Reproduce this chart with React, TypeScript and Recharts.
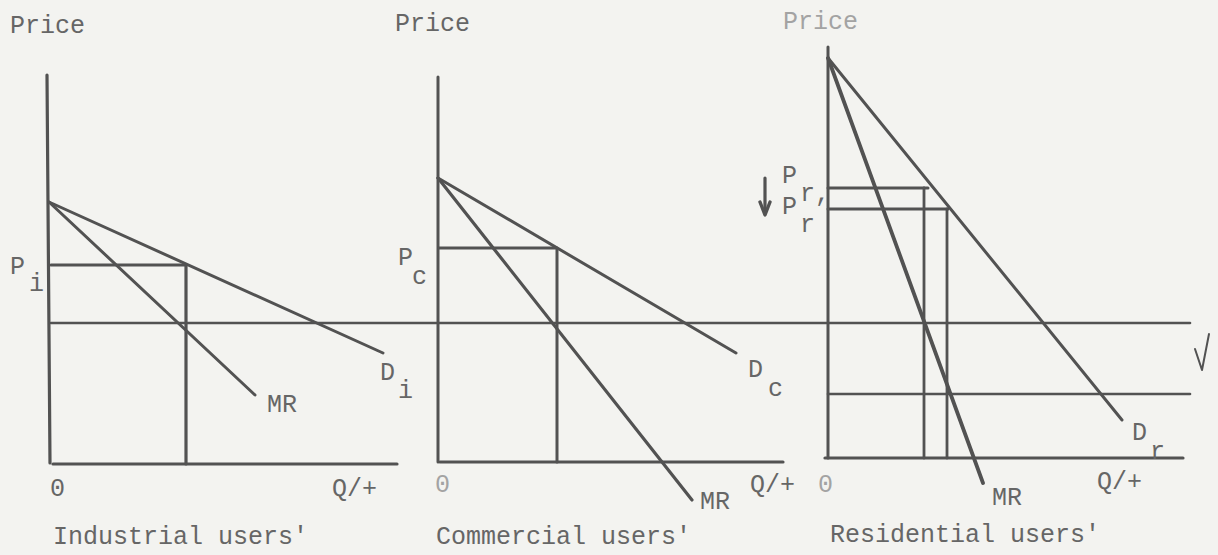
import { ComposedChart, Line, Scatter, XAxis, YAxis } from "recharts";

type Pt = { q: number; p: number };
type Note = { q: number; p: number; text: string; faint?: boolean };

// where each panel's origin sits on the sheet
const industrialOrigin = { x: 49, y: 464 };
const commercialOrigin = { x: 438, y: 462 };
const residentialOrigin = { x: 827, y: 458 };

// industrial users (q = quantity, p = price, measured from the panel origin)
const industrialAxisY: Pt[] = [{ q: 1, p: 1 }, { q: -2, p: 389 }];
const industrialAxisX: Pt[] = [{ q: 4, p: 0 }, { q: 348, p: 0 }];
const industrialDemand: Pt[] = [{ q: 0, p: 262 }, { q: 334, p: 111 }];
const industrialMR: Pt[] = [{ q: 0, p: 262 }, { q: 206, p: 69 }];
const industrialPrice: Pt[] = [{ q: 2, p: 199 }, { q: 137, p: 199 }];
const industrialQty: Pt[] = [{ q: 137, p: 199 }, { q: 137, p: 0 }];
const marginalCost: Pt[] = [{ q: 2, p: 141 }, { q: 1141, p: 141 }];

// commercial users
const commercialAxisY: Pt[] = [{ q: 0, p: 0 }, { q: 0, p: 385 }];
const commercialAxisX: Pt[] = [{ q: 2, p: 0 }, { q: 345, p: 0 }];
const commercialDemand: Pt[] = [{ q: 0, p: 284 }, { q: 298, p: 109 }];
const commercialMR: Pt[] = [{ q: 0, p: 284 }, { q: 254, p: -38 }];
const commercialPrice: Pt[] = [{ q: 1, p: 214 }, { q: 118, p: 214 }];
const commercialQty: Pt[] = [{ q: 119, p: 214 }, { q: 119, p: 0 }];

// residential users
const residentialAxisY: Pt[] = [{ q: 1, p: 0 }, { q: 1, p: 411 }];
const residentialAxisX: Pt[] = [{ q: -2, p: 0 }, { q: 356, p: 0 }];
const residentialDemand: Pt[] = [{ q: 1, p: 400 }, { q: 295, p: 38 }];
const residentialMR: Pt[] = [{ q: 1, p: 400 }, { q: 156, p: -25 }];
const residentialPriceOld: Pt[] = [{ q: 1, p: 270 }, { q: 101, p: 270 }];
const residentialQtyOld: Pt[] = [{ q: 97, p: 270 }, { q: 97, p: 0 }];
const residentialPriceNew: Pt[] = [{ q: 1, p: 249 }, { q: 121, p: 249 }];
const residentialQtyNew: Pt[] = [{ q: 120, p: 249 }, { q: 120, p: 0 }];
const lowerCost: Pt[] = [{ q: 1, p: 64 }, { q: 363, p: 64 }];
const priceArrowStem: Pt[] = [{ q: -62, p: 280 }, { q: -62, p: 246 }];
const priceArrowHead: Pt[] = [{ q: -67, p: 256 }, { q: -62, p: 243 }, { q: -57, p: 256 }];
const costArrow: Pt[] = [{ q: 368, p: 109 }, { q: 375, p: 88 }, { q: 382, p: 124 }];

const industrialNotes: Note[] = [
  { q: -39, p: 438, text: "Price" },
  { q: -39, p: 197, text: "P" },
  { q: -20, p: 180, text: "i" },
  { q: 218, p: 59, text: "MR" },
  { q: 331, p: 91, text: "D" },
  { q: 349, p: 73, text: "i" },
  { q: 1, p: -25, text: "0" },
  { q: 283, p: -25, text: "Q/+" },
  { q: 4, p: -73, text: "Industrial users'" },
];

const commercialNotes: Note[] = [
  { q: -43, p: 438, text: "Price" },
  { q: -40, p: 204, text: "P" },
  { q: -26, p: 185, text: "c" },
  { q: 310, p: 92, text: "D" },
  { q: 330, p: 73, text: "c" },
  { q: 262, p: -40, text: "MR" },
  { q: -3, p: -23, text: "0", faint: true },
  { q: 312, p: -23, text: "Q/+" },
  { q: -2, p: -75, text: "Commercial users'" },
];

const residentialNotes: Note[] = [
  { q: -44, p: 436, text: "Price", faint: true },
  { q: -45, p: 282, text: "P" },
  { q: -27, p: 264, text: "r," },
  { q: -45, p: 251, text: "P" },
  { q: -27, p: 233, text: "r" },
  { q: 305, p: 25, text: "D" },
  { q: 323, p: 6, text: "r" },
  { q: 165, p: -40, text: "MR" },
  { q: -9, p: -27, text: "0", faint: true },
  { q: 270, p: -24, text: "Q/+" },
  { q: 3, p: -77, text: "Residential users'" },
];

const ink = "#525252";

const place = (origin: { x: number; y: number }, pts: Pt[]) =>
  pts.map((d) => ({ x: origin.x + d.q, y: origin.y - d.p }));

const placeNotes = (origin: { x: number; y: number }, notes: Note[]) =>
  notes.map((n) => ({ x: origin.x + n.q, y: origin.y - n.p, text: n.text, faint: n.faint }));

const segments = [
  { id: "iAxisY", pts: place(industrialOrigin, industrialAxisY), w: 3.2 },
  { id: "iAxisX", pts: place(industrialOrigin, industrialAxisX), w: 3.2 },
  { id: "iDemand", pts: place(industrialOrigin, industrialDemand), w: 3 },
  { id: "iMR", pts: place(industrialOrigin, industrialMR), w: 3 },
  { id: "iPrice", pts: place(industrialOrigin, industrialPrice), w: 3.2 },
  { id: "iQty", pts: place(industrialOrigin, industrialQty), w: 3.2 },
  { id: "mc", pts: place(industrialOrigin, marginalCost), w: 2.6 },
  { id: "cAxisY", pts: place(commercialOrigin, commercialAxisY), w: 3 },
  { id: "cAxisX", pts: place(commercialOrigin, commercialAxisX), w: 3.2 },
  { id: "cDemand", pts: place(commercialOrigin, commercialDemand), w: 3 },
  { id: "cMR", pts: place(commercialOrigin, commercialMR), w: 3.2 },
  { id: "cPrice", pts: place(commercialOrigin, commercialPrice), w: 3 },
  { id: "cQty", pts: place(commercialOrigin, commercialQty), w: 3 },
  { id: "rAxisY", pts: place(residentialOrigin, residentialAxisY), w: 3 },
  { id: "rAxisX", pts: place(residentialOrigin, residentialAxisX), w: 3.2 },
  { id: "rDemand", pts: place(residentialOrigin, residentialDemand), w: 3 },
  { id: "rMR", pts: place(residentialOrigin, residentialMR), w: 3.8 },
  { id: "rPriceOld", pts: place(residentialOrigin, residentialPriceOld), w: 3 },
  { id: "rQtyOld", pts: place(residentialOrigin, residentialQtyOld), w: 2.8 },
  { id: "rPriceNew", pts: place(residentialOrigin, residentialPriceNew), w: 3 },
  { id: "rQtyNew", pts: place(residentialOrigin, residentialQtyNew), w: 2.8 },
  { id: "rLower", pts: place(residentialOrigin, lowerCost), w: 2.6 },
  { id: "arrowStem", pts: place(residentialOrigin, priceArrowStem), w: 3.2 },
  { id: "arrowHead", pts: place(residentialOrigin, priceArrowHead), w: 3.4 },
  { id: "costArrow", pts: place(residentialOrigin, costArrow), w: 2 },
];

const notes = [
  ...placeNotes(industrialOrigin, industrialNotes),
  ...placeNotes(commercialOrigin, commercialNotes),
  ...placeNotes(residentialOrigin, residentialNotes),
];

function NoteText(props: any) {
  const { cx, cy, payload } = props;
  return (
    <text
      x={cx}
      y={cy}
      dominantBaseline="central"
      fontFamily="'Liberation Mono', 'DejaVu Sans Mono', monospace"
      fontSize={25}
      fill={payload.faint ? "#a3a3a3" : "#666666"}
    >
      {payload.text}
    </text>
  );
}

export default function App() {
  return (
    <div
      style={{
        position: "fixed",
        left: 0,
        top: 0,
        width: 1218,
        height: 555,
        background: "#f3f3f0",
      }}
    >
      <ComposedChart
        width={1218}
        height={555}
        margin={{ top: 0, right: 0, bottom: 0, left: 0 }}
      >
        <XAxis type="number" dataKey="x" domain={[0, 1218]} hide />
        <YAxis type="number" dataKey="y" domain={[0, 555]} reversed hide />

        {segments.map((s) => (
          <Line
            key={s.id}
            data={s.pts}
            dataKey="y"
            type="linear"
            stroke={ink}
            strokeWidth={s.w}
            strokeLinecap="round"
            strokeLinejoin="round"
            dot={false}
            activeDot={false}
            isAnimationActive={false}
          />
        ))}

        <Scatter
          data={notes}
          dataKey="y"
          shape={NoteText}
          isAnimationActive={false}
        />
      </ComposedChart>
    </div>
  );
}
